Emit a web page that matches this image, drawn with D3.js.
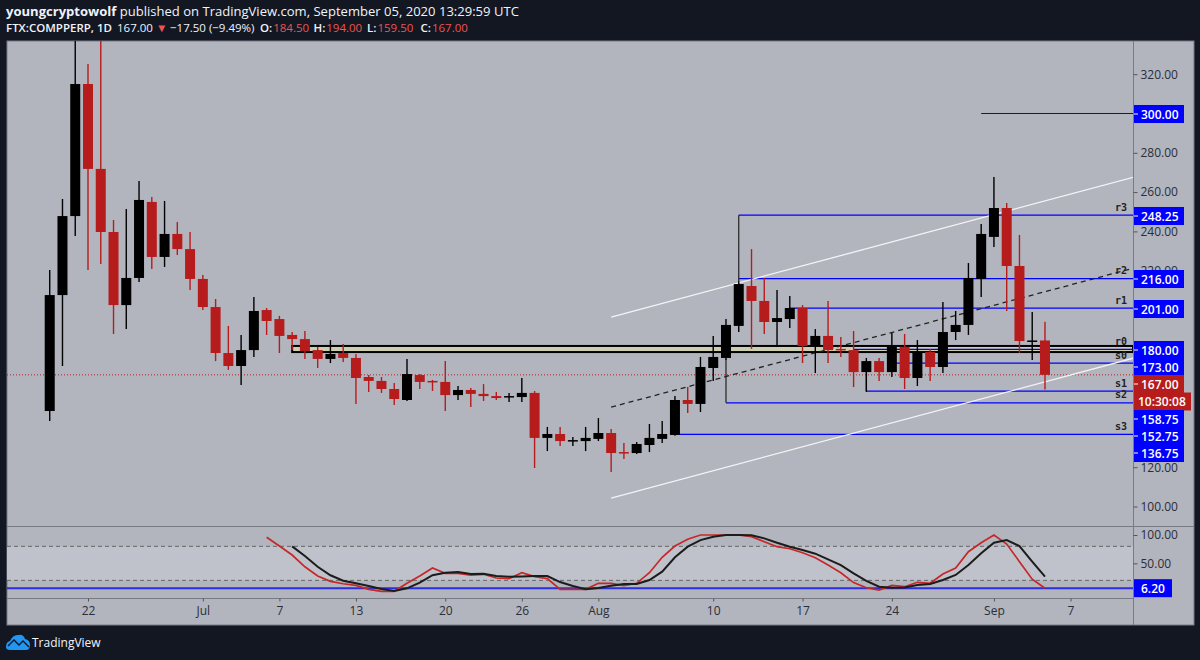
<!DOCTYPE html>
<html>
<head>
<meta charset="utf-8">
<script src="https://cdn.jsdelivr.net/npm/d3@7"></script>
<style>
    html, body { margin: 0; padding: 0; background: #131722; }
    svg { display: block; }
    text { font-family: "Open Sans", sans-serif; }
</style>
</head>
<body>
<svg id="svg" width="1200" height="660"></svg>
<script>
// daily candles, first one is Jun 19 2020
const firstDay = '2020-06-19'
const opens = [148.6,207.6,247.8,315,271.8,239.7,202.5,216.3,255,227,238.7,231,215.8,201.5,178.1,171.5,179.6,200,195.4,187.3,
    185.2,179.6,175.1,178.1,175.6,165.9,163.9,159.8,154.2,166.9,163.9,163.4,156.7,159.3,157.3,156.2,155.7,155.7,157.8,134.9,
    136.9,133.3,133.3,134.4,137.4,127.7,127.2,131.3,134.4,136.4,154.2,152.2,170.5,175.6,191.9,212.2,204.6,193.9,195.4,201,
    181.7,186.8,180.2,179.6,168.4,174,168.4,181.2,165.4,178.6,171,188.8,192.4,215.8,237.2,251.9,222.4,184.2,184.5]
const highs = [220.4,256.5,345,325.2,345,245.8,251.4,265.6,257.5,255.5,244.8,239.7,217.8,205.6,191.9,187.3,206.6,201,197,188.8,
    189.3,181.2,184.7,182.7,177.6,166.9,165.9,162.9,175.1,167.4,164.4,174,161.3,160.3,162.3,158.3,157.8,165.4,158.8,140.5,
    140.5,135.4,140.5,145,139.4,132.3,132.8,142,143.5,156.2,160.8,176.1,186.8,195.4,214.5,231,216.3,210.2,207.1,202.5,
    190.3,204.6,186.3,189.3,175.6,175.6,188.3,187.8,184.7,180.2,204.1,199.5,223.9,243.8,267.7,254.5,238.2,199,194]
const lows = [143.5,171.5,237.7,220.4,223.4,187.8,190.3,214.2,220.9,221.9,228,210.2,200,174,169.5,161.8,176.1,187.3,178.1,179.6,
    175.1,170.5,173,173.5,152.2,158.3,157.8,151.7,153.7,159.8,158.8,148.6,154.2,150.6,153.7,154.2,153.2,153.2,119.6,128.2,
    130.8,130.8,128.2,133.3,117.6,124.2,126.7,127.7,132.3,136,147.6,148.1,163.9,174.5,188.8,180.2,187.8,181.2,190.8,173,
    167.9,173,176.1,160.8,158.3,163.9,165.9,159.8,161.3,163.9,167.9,184.7,187.3,206.6,232.1,199.5,178.1,174.5,159.5]
const closes = [207.6,247.8,315,271.8,239.7,202.5,216.3,256,227,238.7,231,215.8,201.5,178.1,171.5,179.6,199.5,194.4,186.8,185.2,
    179.1,175.1,177.6,175.6,165.4,163.9,159.8,154.7,167.4,163.4,163.4,156.7,159.3,157.3,156.2,155.2,156.2,157.8,134.9,136.9,
    133.3,133.8,134.9,137.4,127.2,127.2,131.8,134.9,136.9,154.2,152.2,171,176.1,192.4,213.2,204.6,193.9,195.9,201,181.7,
    186.8,179.6,179.6,168.4,174,168.4,181.2,165.4,178.6,171,188.8,192.4,216.3,238.7,251.9,222.4,184.2,184.5,167]

// stochastic, starts Jul 6 (k) and Jul 8 (d)
const stochKStart = '2020-07-06'
const stochK = [96,80.6,64.7,44,27.7,18.3,14,11.2,4.2,0.7,0.7,14.8,27.7,41.8,32.4,32.4,29,30.7,24.2,23,33.5,26.5,23,4.2,4.2,4.2,14.8,
    14.8,10.6,14.8,33.5,60.7,80.6,92.4,100,100,100,100,97,88,79.4,75.8,68.8,60,47,33.5,16,7,3,11.2,8.8,16.6,14.8,31.2,41.8,70.5,86.4,100,84,53,22,6.2]
const stochDStart = '2020-07-08'
const stochD = [80,63,44,29,19.4,14.8,10,4.8,1.2,6,16,29,33.5,34.7,31.2,31.8,27.7,26.5,27,27.7,27.7,17,10,4.2,6.5,
    10.6,13.6,13.6,20.6,35.3,60.7,79.4,91,97,100,100,99.4,94,86.4,79.4,73.5,67,57,47,32.4,19,8.8,7,7.5,11.8,13.6,20.6,29.5,47,67.7,86.4,91,80.6,53,26.5]

const lastPrice = 167
const stochLast = 6.2

// pivot levels drawn with the rectangle tool
const levelPrices = [300, 248.25, 216, 201, 180, 173, 158.75, 152.75, 136.75]
const levelNames = ['', 'r3', 'r2', 'r1', 'r0', 's0', 's1', 's2', 's3']
const levelStarts = ['2020-08-31', '2020-08-12', '2020-08-12', '2020-08-16', '2020-08-21', '2020-08-24', '2020-08-22', '2020-08-11', '2020-08-07']

// black risers joining a level to its candle
const riserDays = ['2020-08-12', '2020-08-11', '2020-08-22']
const riserFrom = [248.25, 152.75, 158.75]
const riserTo = [213, 175, 168]

// pale support box
const boxStart = '2020-07-08'
const boxTop = 181.7
const boxBottom = 178.6

// channel
const channelStart = '2020-08-02'
const channelEnd = '2020-09-12'
const channelFrom = [196.4, 150.6, 104.3]
const channelTo = [267.7, 221.4, 175.6]

// the other round prices sit under the level labels and can't be seen
const priceTicks = [100, 120, 220, 240, 260, 280, 320]
const stochTicks = [100, 50]
const stochBand = [20, 80]
const dateTicks = ['2020-06-22', '2020-07-01', '2020-07-07', '2020-07-13', '2020-07-20', '2020-07-26', '2020-08-01', '2020-08-10', '2020-08-17', '2020-08-24', '2020-09-01', '2020-09-07']
const dateTickLabels = ['22', 'Jul', '7', '13', '20', '26', 'Aug', '10', '17', '24', 'Sep', '7']

const left = 7
const right = 1133
const frameRight = 1194
const top_ = 41
const mainBottom = 526
const stochBottom = 598
const frameBottom = 625

const day = (s) => new Date(s + 'T00:00:00Z')
const addDays = (s, n) => new Date(day(s).getTime() + n * 86400000)

const x = d3.scaleUtc()
    .domain([day('2020-06-22'), day('2020-09-07')])
    .range([88, 1070.5])
const y = d3.scaleLinear()
    .domain([100, 300])
    .range([506.5, 113.5])
const yStoch = d3.scaleLinear()
    .domain([0, 100])
    .range([591.7, 535])

const svg = d3.select('#svg')

svg.append('defs').append('clipPath').attr('id', 'main')
    .append('rect')
    .attr('x', left).attr('y', top_)
    .attr('width', right - left).attr('height', mainBottom - top_)

// backgrounds
svg.append('rect')
    .attr('x', left).attr('y', top_)
    .attr('width', frameRight - left).attr('height', frameBottom - top_)
    .attr('fill', '#b2b5be')
    .attr('stroke', '#787b86')
svg.append('rect')
    .attr('x', left).attr('width', right - left)
    .attr('y', yStoch(stochBand[1])).attr('height', yStoch(stochBand[0]) - yStoch(stochBand[1]))
    .attr('fill', '#bfc2ca')

const main = svg.append('g').attr('clip-path', 'url(#main)')

// last price line
main.append('line')
    .attr('x1', left).attr('x2', right)
    .attr('y1', y(lastPrice)).attr('y2', y(lastPrice))
    .attr('stroke', '#b71c1c').attr('stroke-dasharray', '1 2')

// support box
main.append('rect')
    .attr('x', x(day(boxStart))).attr('width', right - x(day(boxStart)))
    .attr('y', y(boxTop)).attr('height', y(boxBottom) - y(boxTop))
    .attr('fill', '#cdcdb2')
    .attr('stroke', '#000')
    .attr('stroke-width', 2)

// levels
main.selectAll('.level')
    .data(levelPrices)
    .enter()
    .append('line')
    .attr('class', 'level')
    .attr('x1', (d, i) => x(day(levelStarts[i])))
    .attr('x2', right)
    .attr('y1', (d) => y(d))
    .attr('y2', (d) => y(d))
    .attr('stroke', '#0000ff')
    .attr('stroke-width', 1.2)

main.selectAll('.riser')
    .data(riserDays)
    .enter()
    .append('line')
    .attr('class', 'riser')
    .attr('x1', (d) => x(day(d)))
    .attr('x2', (d) => x(day(d)))
    .attr('y1', (d, i) => y(riserFrom[i]))
    .attr('y2', (d, i) => y(riserTo[i]))
    .attr('stroke', '#222')
    .attr('stroke-width', 1.2)

// channel
main.selectAll('.channel')
    .data(channelFrom)
    .enter()
    .append('line')
    .attr('class', 'channel')
    .attr('x1', x(day(channelStart)))
    .attr('x2', x(day(channelEnd)))
    .attr('y1', (d) => y(d))
    .attr('y2', (d, i) => y(channelTo[i]))
    .attr('stroke', (d, i) => i === 1 ? '#222' : '#f4f4f6')
    .attr('stroke-width', 1.3)
    .attr('stroke-dasharray', (d, i) => i === 1 ? '5 4' : null)

// candles
const candleColor = (i) => closes[i] >= opens[i] ? '#000' : '#b71c1c'
const candles = main.selectAll('.candle')
    .data(opens)
    .enter()
    .append('g')
    .attr('class', 'candle')
candles.append('line')
    .attr('x1', (d, i) => x(addDays(firstDay, i)))
    .attr('x2', (d, i) => x(addDays(firstDay, i)))
    .attr('y1', (d, i) => y(highs[i]))
    .attr('y2', (d, i) => y(lows[i]))
    .attr('stroke', (d, i) => candleColor(i))
    .attr('stroke-width', 1.4)
candles.append('rect')
    .attr('x', (d, i) => x(addDays(firstDay, i)) - 5)
    .attr('width', 10)
    .attr('y', (d, i) => y(Math.max(opens[i], closes[i])))
    .attr('height', (d, i) => Math.max(1.5, Math.abs(y(opens[i]) - y(closes[i]))))
    .attr('fill', (d, i) => candleColor(i))

// level names
main.selectAll('.levelName')
    .data(levelPrices)
    .enter()
    .append('text')
    .attr('class', 'levelName')
    .attr('x', 1127)
    .attr('text-anchor', 'end')
    .attr('y', (d) => y(d) - 4.5)
    .attr('fill', '#222')
    .style('font-family', '"DejaVu Sans Mono", monospace')
    .style('font-size', '10px')
    .style('font-weight', 'bold')
    .text((d, i) => levelNames[i])

// stochastic pane
svg.append('line')
    .attr('x1', left).attr('x2', right)
    .attr('y1', yStoch(stochLast)).attr('y2', yStoch(stochLast))
    .attr('stroke', '#2d2de0').attr('stroke-width', 2)
svg.selectAll('.bandLine')
    .data(stochBand)
    .enter()
    .append('line')
    .attr('class', 'bandLine')
    .attr('x1', left).attr('x2', right)
    .attr('y1', (d) => yStoch(d)).attr('y2', (d) => yStoch(d))
    .attr('stroke', '#666').attr('stroke-dasharray', '4 3')

const stochLine = (start) => d3.line()
    .x((d, i) => x(addDays(start, i)))
    .y((d) => yStoch(d))
svg.append('path')
    .attr('d', stochLine(stochKStart)(stochK))
    .attr('fill', 'none').attr('stroke', '#c62828').attr('stroke-width', 1.7)
svg.append('path')
    .attr('d', stochLine(stochDStart)(stochD))
    .attr('fill', 'none').attr('stroke', '#1c1c1c').attr('stroke-width', 2)

// pane separators + axis line
svg.selectAll('.sep')
    .data([mainBottom, stochBottom])
    .enter()
    .append('line')
    .attr('class', 'sep')
    .attr('x1', left).attr('x2', right)
    .attr('y1', (d) => d + 0.5).attr('y2', (d) => d + 0.5)
    .attr('stroke', '#787b86')
svg.append('line')
    .attr('x1', right + 0.5).attr('x2', right + 0.5)
    .attr('y1', top_).attr('y2', frameBottom)
    .attr('stroke', '#787b86')
svg.append('line')
    .attr('x1', right).attr('x2', frameRight)
    .attr('y1', mainBottom + 0.5).attr('y2', mainBottom + 0.5)
    .attr('stroke', '#787b86')

// axes
const styleAxis = (g) => {
    g.select('.domain').remove()
    g.selectAll('line').attr('stroke', '#555')
    g.selectAll('text').attr('fill', '#2a2e39').style('font-size', '12px')
}
svg.append('g')
    .attr('transform', `translate(${right + 0.5},0)`)
    .call(d3.axisRight(y).tickValues(priceTicks).tickFormat(d3.format('.2f')).tickSize(4).tickPadding(3))
    .call(styleAxis)
svg.append('g')
    .attr('transform', `translate(${right + 0.5},0)`)
    .call(d3.axisRight(yStoch).tickValues(stochTicks).tickFormat(d3.format('.2f')).tickSize(4).tickPadding(3))
    .call(styleAxis)
svg.append('g')
    .attr('transform', `translate(0,${stochBottom + 0.5})`)
    .call(d3.axisBottom(x).tickValues(dateTicks.map(day)).tickFormat((d, i) => dateTickLabels[i]).tickSize(3).tickPadding(5))
    .call(styleAxis)

// price labels, pushed apart when they collide like on the real axis
const axisLabels = levelPrices.map((p) => ({ y: y(p), text: d3.format('.2f')(p), fill: '#0000ff', w: 50 }))
axisLabels.push({ y: y(lastPrice), text: d3.format('.2f')(lastPrice), fill: '#b71c1c', w: 50 })
axisLabels.push({ y: y(lastPrice) + 0.1, text: '10:30:08', fill: '#b71c1c', w: 57, timer: true })
axisLabels.sort((a, b) => a.y - b.y)
axisLabels.forEach((d, i) => {
    d.y = Math.ceil(d.y)
    if (i > 0) {
        const prev = axisLabels[i - 1]
        const gap = prev.timer || d.timer ? 17.5 : 17
        if (d.y < prev.y + gap) d.y = prev.y + gap
    }
})
const labelG = svg.selectAll('.axisLabel')
    .data(axisLabels)
    .enter()
    .append('g')
    .attr('class', 'axisLabel')
labelG.append('rect')
    .attr('x', right + 1)
    .attr('y', (d) => d.y - 9)
    .attr('width', (d) => d.w)
    .attr('height', 18)
    .attr('fill', (d) => d.fill)
labelG.append('line')
    .attr('x1', right + 1).attr('x2', right + 5)
    .attr('y1', (d) => d.y).attr('y2', (d) => d.y)
    .attr('stroke', (d) => d.timer ? 'none' : '#fff')
labelG.append('text')
    .attr('x', (d) => d.timer ? right + 5 : right + 8)
    .attr('y', (d) => d.y + 4.5)
    .attr('fill', '#fff')
    .style('font-size', '12px')
    .style('font-weight', 600)
    .text((d) => d.text)

// stoch last value
svg.append('rect')
    .attr('x', right + 1).attr('width', 38)
    .attr('y', yStoch(stochLast) - 9).attr('height', 18)
    .attr('fill', '#0000ff')
svg.append('text')
    .attr('x', right + 8)
    .attr('y', yStoch(stochLast) + 4.5)
    .attr('fill', '#fff')
    .style('font-size', '12px')
    .style('font-weight', 600)
    .text(d3.format('.2f')(stochLast))

// header
const head1 = svg.append('text').attr('x', 6).attr('y', 16).attr('fill', '#f0f3fa').style('font-size', '13.05px')
head1.append('tspan').style('font-weight', 700).text('youngcryptowolf')
head1.append('tspan').text(' published on TradingView.com, September 05, 2020 13:29:59 UTC')

const head2 = svg.append('text').attr('x', 6).attr('y', 32).attr('fill', '#f0f3fa').style('font-size', '11.5px')
head2.append('tspan').style('font-weight', 600).text('FTX:COMPPERP, 1D')
head2.append('tspan').attr('x', 117).text('167.00')
head2.append('tspan').attr('x', 156).attr('fill', '#ef5350').text('▼')
head2.append('tspan').attr('x', 170).text('−17.50 (−9.49%)')
const ohlcNames = ['O:', 'H:', 'L:', 'C:']
const ohlcValues = ['184.50', '194.00', '159.50', '167.00']
ohlcNames.forEach((n, i) => {
    head2.append('tspan').attr('x', 260 + i * 53.5).style('font-weight', 600).text(n)
    head2.append('tspan').attr('dx', 1).attr('fill', '#ef5350').text(ohlcValues[i])
})

// logo + name
svg.append('path')
    .attr('d', 'M6 647 Q6 642 10 641 Q13 634 19 635 Q23 634 25 639 Q30 640 30 645 Q30 650 26 650 L10 650 Q6 650 6 647 Z')
    .attr('fill', '#2196f3')
svg.append('path')
    .attr('d', 'M8 646 L14 640 L19 645 L23 641 L29 647')
    .attr('fill', 'none').attr('stroke', '#131722').attr('stroke-width', 1.4)
svg.append('text')
    .attr('x', 32).attr('y', 647)
    .attr('fill', '#f0f3fa')
    .style('font-size', '12px')
    .text('TradingView')
</script>
</body>
</html>
